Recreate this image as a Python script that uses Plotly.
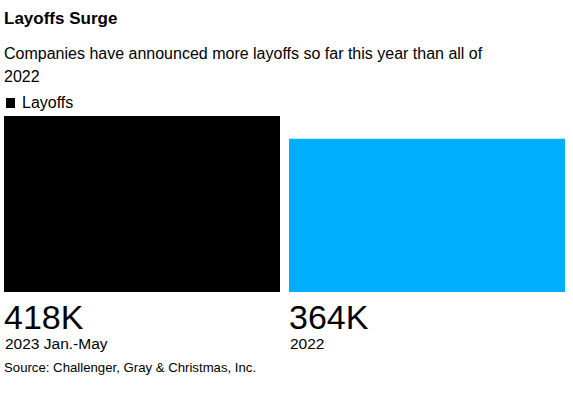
import plotly.graph_objects as go

categories = ["2023 Jan.-May", "2022"]
values = [418, 364]
value_labels = ["418K", "364K"]
colors = ["#000000", "#00ADFE"]
series_name = "Layoffs"
title = "Layoffs Surge"
subtitle_lines = ["Companies have announced more layoffs so far this year than all of", "2022"]
source = "Source: Challenger, Gray & Christmas, Inc."

FONT = "Liberation Sans, Arial, Helvetica, sans-serif"
BAR_W = 276 / 285  # fraction of slot

x_pos = list(range(len(categories)))

fig = go.Figure()
fig.add_trace(go.Bar(
    x=x_pos, y=values, width=BAR_W,
    marker=dict(color=colors, line=dict(width=0)),
    name=series_name, showlegend=False, hoverinfo="skip",
))

ann = []
ann.append(dict(text="<b>" + title + "</b>", xref="paper", yref="paper", x=0, y=1,
                xanchor="left", yanchor="middle", yshift=98, xshift=-2,
                showarrow=False, font=dict(size=17, color="#000", family=FONT)))
for line, ys in zip(subtitle_lines, [62.5, 40]):
    ann.append(dict(text=line, xref="paper", yref="paper", x=0, y=1, align="left",
                    xanchor="left", yanchor="middle", yshift=ys, xshift=-2,
                    showarrow=False, font=dict(size=16, color="#000", family=FONT)))
ann.append(dict(text=series_name, xref="paper", yref="paper", x=0, y=1,
                xanchor="left", yanchor="middle", yshift=13.5, xshift=16,
                showarrow=False, font=dict(size=16, color="#000", family=FONT)))
for i, (c, lab) in enumerate(zip(categories, value_labels)):
    left = x_pos[i] - BAR_W / 2
    ann.append(dict(text=lab, xref="x", yref="y", x=left, y=0,
                    xanchor="left", yanchor="middle", yshift=-24.5, xshift=-2,
                    showarrow=False, font=dict(size=34, color="#000", family=FONT)))
    ann.append(dict(text=c, xref="x", yref="y", x=left, y=0,
                    xanchor="left", yanchor="middle", yshift=-51, xshift=-1,
                    showarrow=False, font=dict(size=15.5, color="#000", family=FONT)))
ann.append(dict(text=source, xref="paper", yref="paper", x=0, y=0,
                xanchor="left", yanchor="middle", yshift=-75, xshift=-2,
                showarrow=False, font=dict(size=13.2, color="#000", family=FONT)))

fig.update_layout(
    width=573, height=394,
    margin=dict(l=4, r=8, t=116, b=102),
    paper_bgcolor="white", plot_bgcolor="white",
    annotations=ann,
    shapes=[dict(type="rect", xref="paper", yref="paper", xsizemode="pixel", ysizemode="pixel",
                 xanchor=0, yanchor=1, x0=2, x1=11, y0=8, y1=18,
                 fillcolor=colors[0], line=dict(width=0))],
    xaxis=dict(range=[-BAR_W / 2, x_pos[-1] + BAR_W / 2], visible=False, fixedrange=True),
    yaxis=dict(range=[0, max(values)], visible=False, fixedrange=True),
    font=dict(family=FONT),
)

fig.write_html("out.html", config={"displayModeBar": False},
               post_script="document.body.style.margin='0px';document.body.style.padding='0px';document.body.style.overflow='hidden';")
